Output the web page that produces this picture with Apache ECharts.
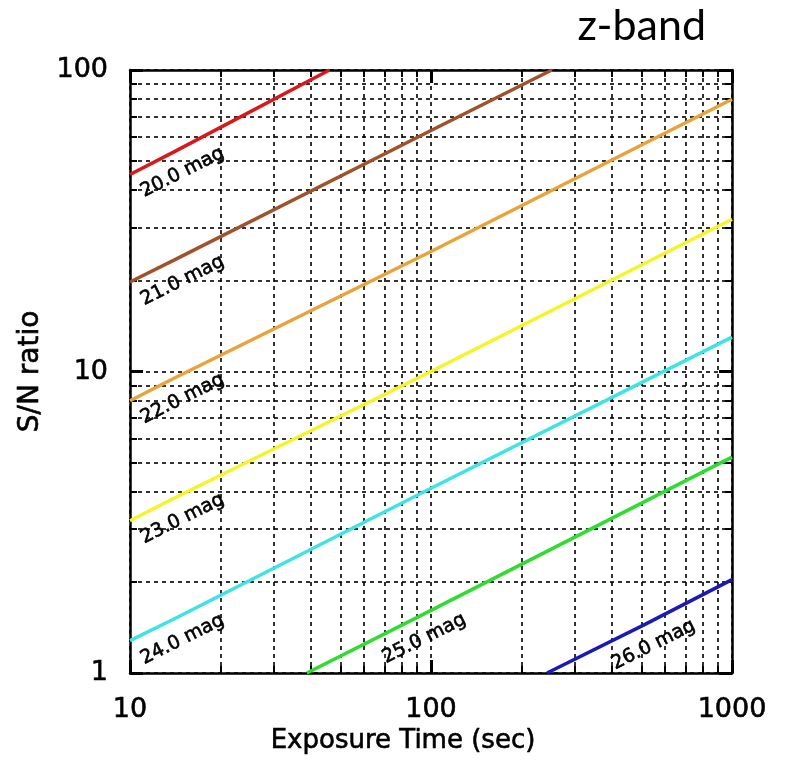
<!DOCTYPE html>
<html>
<head>
<meta charset="utf-8">
<script src="https://cdn.jsdelivr.net/npm/echarts@6/dist/echarts.min.js"></script>
<style>
html,body{margin:0;padding:0;background:#fff;}
#chart{width:788px;height:774px;}
</style>
</head>
<body>
<div id="chart"></div>
<script>
// ---- data ----
const magNames = ['20.0 mag','21.0 mag','22.0 mag','23.0 mag','24.0 mag','25.0 mag','26.0 mag'];
const t20 = [10, 14, 46],        sn20 = [45, 53.5, 100];
const t21 = [10, 14, 100, 252],  sn21 = [19.8, 23.4, 63, 100];
const t22 = [10, 14, 100, 1000], sn22 = [8, 9.5, 25, 80];
const t23 = [10, 14, 100, 1000], sn23 = [3.2, 3.8, 10, 32];
const t24 = [10, 14, 100, 1000], sn24 = [1.28, 1.51, 4.1, 13];
const t25 = [38.7, 89, 1000],    sn25 = [1, 1.52, 5.2];
const t26 = [243, 514, 1000],    sn26 = [1, 1.45, 2.04];
// index of the point that carries the curve label
const labelIdx = [1, 1, 1, 1, 1, 1, 1];
const xTickLabels = [10, 100, 1000];
const yTickLabels = [1, 10, 100];
const xTicks = [10,20,30,40,50,60,70,80,90,100,200,300,400,500,600,700,800,900,1000];
const yTicks = [1,2,3,4,5,6,7,8,9,10,20,30,40,50,60,70,80,90,100];

const colors = ['#d7191c','#a0522d','#e8a33a','#f6f426','#3fe3e3','#2fdc2f','#1a1ab8'];
const times = [t20,t21,t22,t23,t24,t25,t26];
const snrs = [sn20,sn21,sn22,sn23,sn24,sn25,sn26];

const FONT = 'DejaVu Sans, Liberation Sans, Arial, sans-serif';
const heavy = { textBorderColor: '#000', textBorderWidth: 0.6 };

function buildSeries(i){
  const data = times[i].map((t, k) => {
    const item = { value: [t, snrs[i][k]] };
    if (k === labelIdx[i]) {
      item.label = Object.assign({
        show: true,
        formatter: magNames[i],
        position: [9, 21],
        align: 'center',
        verticalAlign: 'middle',
        rotate: 26.6,
        color: '#000',
        fontSize: 19,
        fontFamily: FONT
      }, heavy);
    }
    return item;
  });
  return {
    type: 'line',
    name: magNames[i],
    xAxisIndex: 0,
    yAxisIndex: 0,
    data: data,
    symbol: 'circle',
    symbolSize: 1,
    showSymbol: true,
    itemStyle: { color: 'rgba(0,0,0,0)' },
    lineStyle: { color: colors[i], width: 3.5 },
    label: { show: false },
    clip: true,
    silent: true,
    animation: false,
    z: 5
  };
}

function logAxis(pos, opts){
  return Object.assign({
    type: 'log', logBase: 10, position: pos,
    axisLine: { show: false },
    axisTick: { show: false },
    axisLabel: { show: false },
    splitLine: { show: false },
    minorTick: { show: false },
    minorSplitLine: { show: false }
  }, opts);
}

const lineStyleAxis = { show: true, onZero: false, lineStyle: { color: '#000', width: 2.5 } };
const dashed = { show: true, lineStyle: { color: '#000', width: 1.6, type: [4, 4] } };
const plainNum = v => String(v);

const xAxes = [
  logAxis('bottom', {
    min: 10, max: 1000,
    axisLine: lineStyleAxis,
    axisTick: { show: true, inside: true, length: 7, customValues: xTicks, lineStyle: { color: '#000', width: 2 } },
    splitLine: dashed,
    axisLabel: Object.assign({ show: true, customValues: xTickLabels, formatter: plainNum, color: '#000', fontSize: 27, fontFamily: FONT, margin: 23 }, heavy),
    name: 'Exposure Time (sec)', nameLocation: 'middle', nameGap: 54,
    nameTextStyle: Object.assign({ color: '#000', fontSize: 26, fontFamily: FONT, padding: [0, 56, 0, 0] }, heavy)
  }),
  logAxis('top', {
    min: 10, max: 1000,
    axisLine: lineStyleAxis,
    axisTick: { show: true, inside: true, length: 7, customValues: xTicks, lineStyle: { color: '#000', width: 2 } }
  }),
  logAxis('bottom', {
    min: 10, max: 1000,
    axisTick: { show: true, inside: true, length: 13, customValues: xTickLabels, lineStyle: { color: '#000', width: 3 } }
  }),
  logAxis('top', {
    min: 10, max: 1000,
    axisTick: { show: true, inside: true, length: 13, customValues: xTickLabels, lineStyle: { color: '#000', width: 3 } }
  })
];

const yAxes = [
  logAxis('left', {
    min: 1, max: 100,
    axisLine: lineStyleAxis,
    axisTick: { show: true, inside: true, length: 7, customValues: yTicks, lineStyle: { color: '#000', width: 2 } },
    splitLine: dashed,
    axisLabel: Object.assign({ show: true, customValues: yTickLabels, formatter: plainNum, color: '#000', fontSize: 27, fontFamily: FONT, margin: 22 }, heavy),
    name: 'S/N ratio', nameLocation: 'middle', nameGap: 84, nameRotate: 90,
    nameTextStyle: Object.assign({ color: '#000', fontSize: 28, fontFamily: FONT }, heavy)
  }),
  logAxis('right', {
    min: 1, max: 100,
    axisLine: lineStyleAxis,
    axisTick: { show: true, inside: true, length: 7, customValues: yTicks, lineStyle: { color: '#000', width: 2 } }
  }),
  logAxis('left', {
    min: 1, max: 100,
    axisTick: { show: true, inside: true, length: 13, customValues: yTickLabels, lineStyle: { color: '#000', width: 3 } }
  }),
  logAxis('right', {
    min: 1, max: 100,
    axisTick: { show: true, inside: true, length: 13, customValues: yTickLabels, lineStyle: { color: '#000', width: 3 } }
  })
];

const chart = echarts.init(document.getElementById('chart'), null, { renderer: 'canvas' });
chart.setOption({
  backgroundColor: '#fff',
  animation: false,
  title: {
    text: 'z-band',
    right: 77, top: 0,
    textStyle: { color: '#000', fontSize: 43, fontWeight: 'normal', fontFamily: 'Lato, Open Sans, sans-serif' }
  },
  grid: { left: 130, right: 56, top: 70, bottom: 101, containLabel: false },
  xAxis: xAxes,
  yAxis: yAxes,
  series: magNames.map((_, i) => buildSeries(i))
});
</script>
</body>
</html>
